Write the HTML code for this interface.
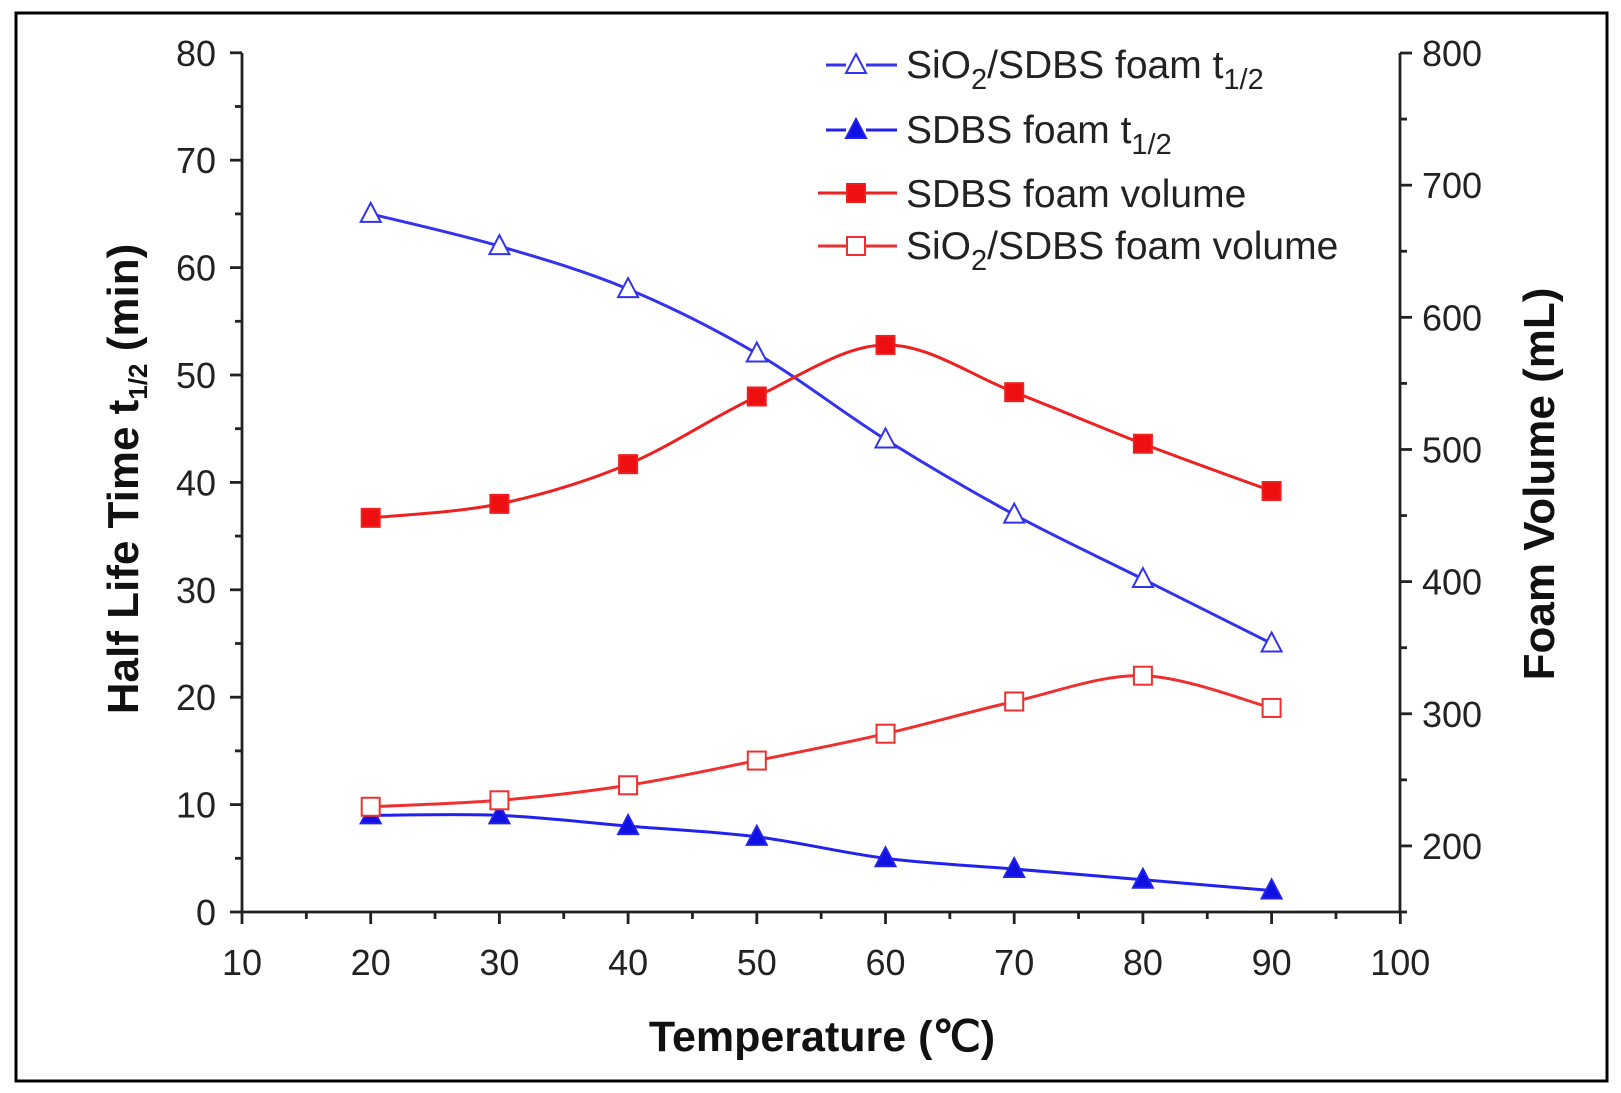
<!DOCTYPE html>
<html><head><meta charset="utf-8"><style>
html,body{margin:0;padding:0;background:#fff;}
svg{display:block;font-family:"Liberation Sans",Arial,sans-serif;}
</style></head><body>
<svg id="c" width="1621" height="1093" viewBox="0 0 1621 1093" xmlns="http://www.w3.org/2000/svg">
<rect x="16" y="13" width="1591" height="1068" fill="none" stroke="#000" stroke-width="3"/>
<g id="axes" stroke="#222" stroke-width="2.8" fill="none"></g>
<g id="labels" fill="#222" font-size="36"></g>
<g id="series"></g>
<text x="822" y="1051" text-anchor="middle" font-size="43" font-weight="bold" fill="#111">Temperature (℃)</text>
<text transform="translate(138,479) rotate(-90)" text-anchor="middle" font-size="44" font-weight="bold" fill="#111">Half Life Time t<tspan font-size="26" dy="9">1/2</tspan><tspan dy="-9"> (min)</tspan></text>
<text transform="translate(1554,484) rotate(-90)" text-anchor="middle" font-size="44" font-weight="bold" fill="#111">Foam Volume (mL)</text>
<g font-size="39" fill="#222">
<text x="906" y="78">SiO<tspan font-size="29" dy="11">2</tspan><tspan dy="-11">/SDBS foam t</tspan><tspan font-size="29" dy="11">1/2</tspan></text>
<text x="906" y="143">SDBS foam t<tspan font-size="29" dy="11">1/2</tspan></text>
<text x="906" y="207">SDBS foam volume</text>
<text x="906" y="259">SiO<tspan font-size="29" dy="11">2</tspan><tspan dy="-11">/SDBS foam volume</tspan></text>
</g>
</svg>
<script>
var NS="http://www.w3.org/2000/svg";
function X(v){return 242+(v-10)*12.87;}
function Y(v){return 912-v*10.74;}
function el(p,t,a){var e=document.createElementNS(NS,t);for(var k in a)e.setAttribute(k,a[k]);p.appendChild(e);return e;}
var ax=document.getElementById('axes'),lb=document.getElementById('labels'),se=document.getElementById('series');
el(ax,'path',{d:'M242,53 V912 H1400 V53'});
for(var v=0;v<=80;v+=5){var y=Y(v);el(ax,'line',{x1:242,x2:v%10?235:230,y1:y,y2:y});
 if(v%10==0){var t=el(lb,'text',{x:216,y:y+13,'text-anchor':'end'});t.textContent=v;}}
for(var v=10;v<=100;v+=5){var x=X(v);el(ax,'line',{x1:x,x2:x,y1:912,y2:v%10?919:924});
 if(v%10==0){var t=el(lb,'text',{x:x,y:975,'text-anchor':'middle'});t.textContent=v;}}
var pr=1.3215;
for(var m=150;m<=800;m+=50){var y=912-(m-150)*pr;if(y<52)continue;el(ax,'line',{x1:1400,x2:m%100?1407:1412,y1:y,y2:y});
 if(m%100==0){var t=el(lb,'text',{x:1422,y:y+13});t.textContent=m;}}
var xs=[20,30,40,50,60,70,80,90];
var S=[
 {d:[65,62,58,52,44,37,31,25],c:'#3333ee',m:'tri',f:'#fff'},
 {d:[9,9,8,7,5,4,3,2],c:'#2222ee',m:'tri',f:'#1010e0'},
 {d:[36.7,38,41.7,48,52.8,48.4,43.6,39.2],c:'#ee2020',m:'sq',f:'#ee1010'},
 {d:[9.8,10.4,11.8,14.1,16.6,19.6,22,19],c:'#ee3030',m:'sq',f:'#fff'}];
function path(pts){var d='M'+pts[0][0]+','+pts[0][1];
 for(var i=0;i<pts.length-1;i++){var p0=pts[i-1]||pts[i],p1=pts[i],p2=pts[i+1],p3=pts[i+2]||p2;
  d+=' C'+(p1[0]+(p2[0]-p0[0])/6)+','+(p1[1]+(p2[1]-p0[1])/6)+' '+(p2[0]-(p3[0]-p1[0])/6)+','+(p2[1]-(p3[1]-p1[1])/6)+' '+p2[0]+','+p2[1];}
 return d;}
function marker(x,y,s){if(s.m=='tri')el(se,'path',{d:'M'+x+','+(y-11)+' L'+(x+10)+','+(y+8)+' L'+(x-10)+','+(y+8)+'Z',fill:s.f,stroke:s.c,'stroke-width':2});
 else el(se,'rect',{x:x-9,y:y-9,width:18,height:18,fill:s.f,stroke:s.c,'stroke-width':2});}
S.forEach(function(s){var pts=xs.map(function(v,i){return[X(v),Y(s.d[i])];});
 el(se,'path',{d:path(pts),fill:'none',stroke:s.c,'stroke-width':3});
 pts.forEach(function(p){marker(p[0],p[1],s);});});
var ly=[65,130,193,246];
[0,1,2,3].forEach(function(i){var s=S[i],y=ly[i];el(se,'line',{x1:s.m=='tri'?826:818,x2:897,y1:y,y2:y,stroke:s.c,'stroke-width':3});
 el(se,'rect',{x:846,y:y-7,width:20,height:14,fill:'#fff'});marker(856,y,s);});
</script>
</body></html>
